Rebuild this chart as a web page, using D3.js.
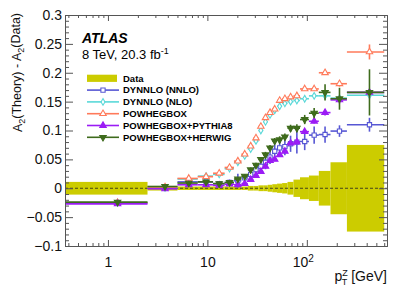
<!DOCTYPE html>
<html lang="en">
<head>
<meta charset="UTF-8">
<title>A2(Theory) - A2(Data)</title>
<script src="https://d3js.org/d3.v7.min.js"></script>
<style>
  body { margin: 0; background: #fff; }
  svg { display: block; font-family: "Liberation Sans", Arial, sans-serif; }
</style>
</head>
<body>
<div id="chart"></div>
<script>
// pT(Z) bin edges [GeV]
const binEdges = [0, 2.5, 5, 8, 11.4, 14.9, 18.5, 22, 25.5, 29, 32.6, 36.4, 40.4, 44.9, 50.2, 56.4, 63.9, 73.4, 85.4, 105, 132, 173, 253, 600];

// data uncertainty (half width of the band around 0)
const dataUnc = [0.011, 0.004, 0.003, 0.003, 0.003, 0.003, 0.003, 0.003, 0.004, 0.004, 0.005, 0.005, 0.006, 0.007, 0.008, 0.009, 0.011, 0.015, 0.019, 0.022, 0.030, 0.045, 0.075];

const nnloVals = [-0.025, 0.001, 0.011, 0.011, 0.008, 0.010, 0.013, 0.018, 0.024, 0.032, 0.038, 0.045, 0.054, 0.064, 0.070, 0.072, 0.077, 0.080, 0.081, 0.092, 0.093, 0.099, 0.110];
const nnloErr  = [0.002, 0.002, 0.003, 0.003, 0.004, 0.005, 0.012, 0.006, 0.006, 0.008, 0.010, 0.012, 0.012, 0.012, 0.013, 0.015, 0.014, 0.020, 0.015, 0.015, 0.014, 0.010, 0.012];

const nloVals = [-0.025, 0.001, 0.016, 0.021, 0.024, 0.034, 0.045, 0.056, 0.068, 0.082, 0.100, 0.115, 0.127, 0.135, 0.142, 0.147, 0.150, 0.152, 0.155, 0.160, 0.160, 0.156, 0.161];
const nloErr  = [0.001, 0.001, 0.002, 0.002, 0.002, 0.002, 0.002, 0.002, 0.002, 0.002, 0.002, 0.002, 0.002, 0.002, 0.002, 0.002, 0.002, 0.002, 0.002, 0.002, 0.002, 0.002, 0.003];

const powhegVals = [-0.025, 0.002, 0.017, 0.020, 0.026, 0.036, 0.047, 0.059, 0.073, 0.087, 0.107, 0.122, 0.131, 0.137, 0.152, 0.155, 0.158, 0.160, 0.172, 0.172, 0.200, 0.181, 0.236];
const powhegErr  = [0.002, 0.002, 0.002, 0.002, 0.002, 0.002, 0.002, 0.002, 0.002, 0.002, 0.002, 0.002, 0.002, 0.002, 0.002, 0.002, 0.002, 0.002, 0.003, 0.003, 0.003, 0.005, 0.013];

const pythiaVals = [-0.027, -0.001, 0.006, 0.006, 0.005, 0.007, 0.006, 0.008, 0.015, 0.022, 0.029, 0.038, 0.048, 0.050, 0.058, 0.064, 0.078, 0.080, 0.098, 0.116, 0.131, 0.153, 0.166];
const pythiaErr  = [0.002, 0.002, 0.002, 0.002, 0.002, 0.002, 0.003, 0.003, 0.003, 0.003, 0.003, 0.003, 0.003, 0.003, 0.003, 0.003, 0.003, 0.004, 0.004, 0.004, 0.005, 0.006, 0.006];

const herwigVals = [-0.024, 0.003, 0.009, 0.011, 0.008, 0.010, 0.016, 0.021, 0.032, 0.040, 0.050, 0.058, 0.070, 0.082, 0.084, 0.089, 0.104, 0.104, 0.119, 0.130, 0.166, 0.155, 0.166];
const herwigErr  = [0.003, 0.003, 0.003, 0.003, 0.003, 0.003, 0.003, 0.003, 0.004, 0.004, 0.004, 0.005, 0.005, 0.005, 0.006, 0.006, 0.006, 0.007, 0.008, 0.009, 0.014, 0.019, 0.040];

const yTicks = [-0.1, -0.05, 0, 0.05, 0.1, 0.15, 0.2, 0.25, 0.3];
const xTicks = [1, 10, 100];

const W = 409, H = 294;
const margin = { top: 15, right: 22, bottom: 48, left: 65 };

const bandColor = '#cccc00';

const series = [
  { name: 'DYNNLO (NNLO)',      values: nnloVals,   errors: nnloErr,   color: '#5757d4', symbol: d3.symbolSquare,   size: 18, filled: false, rot: 0 },
  { name: 'DYNNLO (NLO)',       values: nloVals,    errors: nloErr,    color: '#5ad8d8', symbol: d3.symbolDiamond,  size: 13, filled: false, rot: 0 },
  { name: 'POWHEGBOX',          values: powhegVals, errors: powhegErr, color: '#ff7a5a', symbol: d3.symbolTriangle, size: 18, filled: false, rot: 0 },
  { name: 'POWHEGBOX+PYTHIA8',  values: pythiaVals, errors: pythiaErr, color: '#9b1cf5', symbol: d3.symbolTriangle, size: 18, filled: true,  rot: 0 },
  { name: 'POWHEGBOX+HERWIG',   values: herwigVals, errors: herwigErr, color: '#3e6b1c', symbol: d3.symbolTriangle, size: 18, filled: true,  rot: 180 }
];

const x = d3.scaleLog().domain([0.37, 640]).range([margin.left, W - margin.right]);
const y = d3.scaleLinear().domain([-0.1, 0.3]).range([H - margin.bottom, margin.top]);

const bins = d3.range(binEdges.length - 1).map(i => ({
  lo: Math.max(binEdges[i], x.domain()[0]),
  hi: binEdges[i + 1],
  c: (binEdges[i] + binEdges[i + 1]) / 2,
  unc: dataUnc[i]
}));

const svg = d3.select('#chart').append('svg')
  .attr('width', W)
  .attr('height', H);

svg.append('clipPath').attr('id', 'plotclip')
  .append('rect')
  .attr('x', margin.left).attr('y', margin.top)
  .attr('width', W - margin.left - margin.right)
  .attr('height', H - margin.top - margin.bottom);

const plot = svg.append('g').attr('clip-path', 'url(#plotclip)');

// data uncertainty band
plot.append('g').selectAll('rect')
  .data(bins)
  .join('rect')
  .attr('x', d => x(d.lo))
  .attr('width', d => x(d.hi) - x(d.lo))
  .attr('y', d => y(d.unc))
  .attr('height', d => y(-d.unc) - y(d.unc))
  .attr('fill', bandColor);

plot.append('line')
  .attr('x1', margin.left).attr('x2', W - margin.right)
  .attr('y1', y(0)).attr('y2', y(0))
  .attr('stroke', '#222')
  .attr('stroke-width', 0.8)
  .attr('stroke-dasharray', '3,2');

// theory series
series.forEach(s => {
  const pts = bins.map((b, i) => ({ ...b, v: s.values[i], e: s.errors[i] }));
  const g = plot.append('g');
  g.selectAll('line.h').data(pts).join('line')
    .attr('class', 'h')
    .attr('x1', d => x(d.lo)).attr('x2', d => x(d.hi))
    .attr('y1', d => y(d.v)).attr('y2', d => y(d.v))
    .attr('stroke', s.color).attr('stroke-width', 1.6);
  g.selectAll('line.v').data(pts).join('line')
    .attr('class', 'v')
    .attr('x1', d => x(d.c)).attr('x2', d => x(d.c))
    .attr('y1', d => y(d.v + d.e)).attr('y2', d => y(d.v - d.e))
    .attr('stroke', s.color).attr('stroke-width', 1.6);
  const sym = d3.symbol().type(s.symbol).size(s.size);
  g.selectAll('path').data(pts).join('path')
    .attr('d', sym)
    .attr('transform', d => `translate(${x(d.c)},${y(d.v)}) rotate(${s.rot})`)
    .attr('fill', s.filled ? s.color : '#fff')
    .attr('stroke', s.color)
    .attr('stroke-width', 1.1);
});

// axes: ticks on all four sides, pointing inward
const frameColor = '#555';
const yMinor = d3.range(-10, 31).map(v => v / 100).filter(v => Math.round(v * 100) % 5 !== 0);
const xMinor = [];
[-1, 0, 1, 2].forEach(p => d3.range(2, 10).forEach(k => {
  const v = k * Math.pow(10, p);
  if (v > x.domain()[0] && v < x.domain()[1]) xMinor.push(v);
}));

function styleAxis(g) {
  g.selectAll('path, line').attr('stroke', frameColor);
  g.selectAll('text').attr('fill', '#111').style('font-size', '14px').style('font-family', '"Liberation Sans", Arial, sans-serif');
}

svg.append('g').attr('transform', `translate(${margin.left},0)`)
  .call(d3.axisLeft(y).tickValues(yTicks).tickSize(-8).tickSizeOuter(0).tickPadding(3)
    .tickFormat(d3.format('~g')))
  .call(styleAxis);
svg.append('g').attr('transform', `translate(${margin.left},0)`)
  .call(d3.axisLeft(y).tickValues(yMinor).tickSize(-4).tickSizeOuter(0).tickFormat(''))
  .call(styleAxis);
svg.append('g').attr('transform', `translate(${W - margin.right},0)`)
  .call(d3.axisRight(y).tickValues(yTicks).tickSize(-8).tickSizeOuter(0).tickFormat(''))
  .call(styleAxis);
svg.append('g').attr('transform', `translate(${W - margin.right},0)`)
  .call(d3.axisRight(y).tickValues(yMinor).tickSize(-4).tickSizeOuter(0).tickFormat(''))
  .call(styleAxis);

const xAxisG = svg.append('g').attr('transform', `translate(0,${H - margin.bottom})`)
  .call(d3.axisBottom(x).tickValues(xTicks).tickSize(-6).tickSizeOuter(0).tickPadding(11)
    .tickFormat(d => d === 100 ? '10' : String(d)))
  .call(styleAxis);
xAxisG.selectAll('.tick').filter(d => d === 100).select('text')
  .attr('dx', '-4')
  .append('tspan').attr('dy', '-0.45em').style('font-size', '10px').text('2');
svg.append('g').attr('transform', `translate(0,${H - margin.bottom})`)
  .call(d3.axisBottom(x).tickValues(xMinor).tickSize(-3).tickSizeOuter(0).tickFormat(''))
  .call(styleAxis);
svg.append('g').attr('transform', `translate(0,${margin.top})`)
  .call(d3.axisTop(x).tickValues(xTicks).tickSize(-6).tickSizeOuter(0).tickFormat(''))
  .call(styleAxis);
svg.append('g').attr('transform', `translate(0,${margin.top})`)
  .call(d3.axisTop(x).tickValues(xMinor).tickSize(-3).tickSizeOuter(0).tickFormat(''))
  .call(styleAxis);

// axis titles
const yTitle = svg.append('text')
  .attr('transform', `translate(22,${margin.top - 2}) rotate(-90)`)
  .attr('text-anchor', 'end')
  .style('font-size', '12.5px')
  .attr('fill', '#111');
yTitle.append('tspan').text('A');
yTitle.append('tspan').attr('dy', '0.3em').style('font-size', '9px').text('2');
yTitle.append('tspan').attr('dy', '-0.3em').text('(Theory) - A');
yTitle.append('tspan').attr('dy', '0.3em').style('font-size', '9px').text('2');
yTitle.append('tspan').attr('dy', '-0.3em').text('(Data)');

const xTitle = svg.append('text')
  .attr('x', W - margin.right)
  .attr('y', 280.5)
  .attr('text-anchor', 'end')
  .style('font-size', '14px')
  .attr('fill', '#111');
xTitle.append('tspan').text('p');
xTitle.append('tspan').attr('dy', -5).style('font-size', '9px').text('Z');
xTitle.append('tspan').attr('dx', -6).attr('dy', 9).style('font-size', '9px').text('T');
xTitle.append('tspan').attr('dy', -4).text(' [GeV]');

// labels
svg.append('text')
  .attr('x', 82).attr('y', 42.5)
  .style('font-size', '14px').style('font-weight', 'bold').style('font-style', 'italic')
  .attr('fill', '#000')
  .text('ATLAS');
const lumi = svg.append('text')
  .attr('x', 82).attr('y', 58.5)
  .style('font-size', '13px')
  .attr('fill', '#000');
lumi.append('tspan').text('8 TeV, 20.3 fb');
lumi.append('tspan').attr('dy', -5).style('font-size', '9px').text('-1');

// legend
const legend = svg.append('g').attr('transform', 'translate(87,78.3)');
const rowH = 11.8;
legend.append('rect')
  .attr('x', 0).attr('y', -3.6)
  .attr('width', 30).attr('height', 7.2)
  .attr('fill', bandColor);
legend.append('text')
  .attr('x', 36).attr('y', 0).attr('dy', '0.35em')
  .style('font-size', '9.5px').style('font-weight', 'bold')
  .text('Data');
series.forEach((s, i) => {
  const g = legend.append('g').attr('transform', `translate(0,${(i + 1) * rowH})`);
  g.append('line')
    .attr('x1', 0).attr('x2', 32).attr('y1', 0).attr('y2', 0)
    .attr('stroke', s.color).attr('stroke-width', 1.6);
  g.append('path')
    .attr('d', d3.symbol().type(s.symbol).size(s.size))
    .attr('transform', `translate(16,0) rotate(${s.rot})`)
    .attr('fill', s.filled ? s.color : '#fff')
    .attr('stroke', s.color).attr('stroke-width', 1.1);
  g.append('text')
    .attr('x', 36).attr('y', 0).attr('dy', '0.35em')
    .style('font-size', '9.5px').style('font-weight', 'bold')
    .text(s.name);
});
</script>
</body>
</html>
